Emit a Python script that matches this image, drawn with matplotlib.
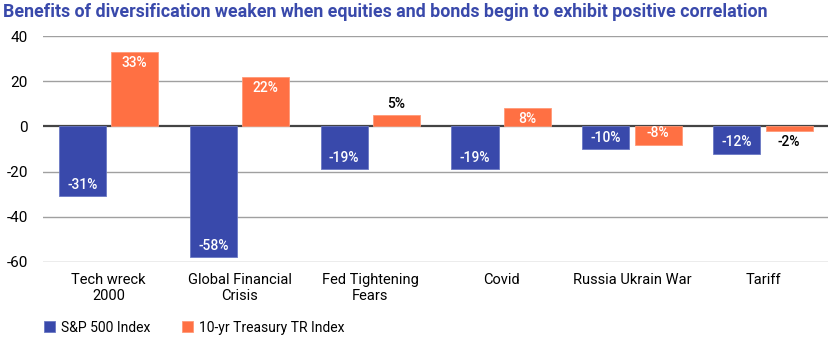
import matplotlib
matplotlib.use("Agg")
import matplotlib.pyplot as plt
import numpy as np

categories = ["Tech wreck\n2000", "Global Financial\nCrisis", "Fed Tightening\nFears", "Covid", "Russia Ukrain War", "Tariff"]
sp500 = [-31, -58, -19, -19, -10, -12]
treasury = [33, 22, 5, 8, -8, -2]
series_names = ["S&P 500 Index", "10-yr Treasury TR Index"]
yticks = [-60, -40, -20, 0, 20, 40]

BLUE = "#3949AB"
ORANGE = "#FF7043"

plt.rcParams['font.family'] = ['Roboto', 'DejaVu Sans']

fig = plt.figure(figsize=(8.3, 3.41), dpi=100)
ax = fig.add_axes([0.052, 0.232, 0.946, 0.662])

x = np.arange(len(categories))
w = 0.36
off = 0.2
b1 = ax.bar(x - off, sp500, w, color=BLUE, edgecolor="#6a78c4", linewidth=0.6, label=series_names[0], zorder=3)
b2 = ax.bar(x + off, treasury, w, color=ORANGE, edgecolor="#ff9a78", linewidth=0.6, label=series_names[1], zorder=3)

for bars, vals in ((b1, sp500), (b2, treasury)):
    for bar, v in zip(bars, vals):
        cx = bar.get_x() + bar.get_width() / 2
        s = 1 if v >= 0 else -1
        inside = abs(v) >= 6
        dy = -s * 8 if inside else s * 8
        ax.annotate(f"{v}%", (cx, v), xytext=(0, dy), textcoords="offset points",
                    ha="center", va="center", fontsize=10, fontweight="medium",
                    color="white" if inside else "black", zorder=4)

ax.set_ylim(-60, 40)
ax.set_xlim(-0.5, len(categories) - 0.5)
ax.set_yticks(yticks)
ax.set_yticklabels([str(t) for t in yticks], fontsize=11)
ax.set_xticks(x)
ax.set_xticklabels(categories, fontsize=10.5)
ax.tick_params(axis="both", length=0)
ax.tick_params(axis="y", pad=11)
ax.tick_params(axis="x", pad=8)
for t in yticks:
    if t == 0:
        ax.axhline(0, color="#444444", linewidth=1.6, zorder=2)
    else:
        ax.axhline(t, color="#a0a0a0", linewidth=1.0, zorder=1)
for sp in ax.spines.values():
    sp.set_visible(False)

fig.text(0.004, 0.965, "Benefits of diversification weaken when equities and bonds begin to exhibit positive correlation",
         fontsize=12.8, fontweight="bold", color="#3949AB", ha="left", va="center")

fig.legend(handles=[b1, b2], labels=series_names, loc="lower left", bbox_to_anchor=(0.038, -0.018),
           ncol=2, frameon=False, fontsize=10, handlelength=0.8, handleheight=0.8,
           handletextpad=0.4, columnspacing=2.3)

fig.savefig("out.png", dpi=100)
